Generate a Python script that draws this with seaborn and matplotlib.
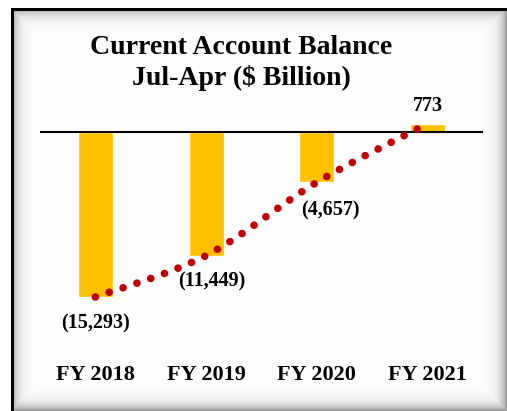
import matplotlib.pyplot as plt
import numpy as np
import seaborn as sns
from matplotlib.patches import PathPatch
from matplotlib.path import Path

years = ["FY 2018", "FY 2019", "FY 2020", "FY 2021"]
balance = [-15293, -11449, -4657, 773]
labels = ["(15,293)", "(11,449)", "(4,657)", "773"]
# label offsets in points (dx, dy) relative to the bar end
label_offsets = [(0, -19), (4, -19), (10, -20), (0, 13)]

BAR_COLOR = "#FFC000"
DOT_COLOR = "#C00000"
FONT = "Liberation Serif"

sns.set_style("white")
plt.rcParams["font.family"] = [FONT, "DejaVu Serif"]

W, H = 507, 411
fig = plt.figure(figsize=(W / 100, H / 100), dpi=100)

# background frame with an inset shadow
bg = fig.add_axes([0, 0, 1, 1])
bg.set_axis_off()
img = np.ones((H, W, 3))
xs = np.arange(W)[None, :] - 13.0
ys = np.arange(H)[:, None] - 11.0
shade = np.zeros((H, W))
shade = np.maximum(shade, 0.30 * np.exp(-np.clip(xs, 0, None) / 6))
shade = np.maximum(shade, 0.30 * np.exp(-np.clip(ys, 0, None) / 6))
shade = np.maximum(shade, 0.40 * np.exp(-np.clip(W - 1 - np.arange(W)[None, :], 0, None) / 6))
shade = np.maximum(shade, 0.40 * np.exp(-np.clip(H - 1 - np.arange(H)[:, None], 0, None) / 6))
img = img * (1 - shade[:, :, None])
img[:, :11] = 1.0
img[:9, :] = 1.0
img[9:, 11:14] = 0.0
img[9:12, 11:] = 0.0
bg.imshow(img, extent=(0, W, H, 0), aspect="auto", interpolation="nearest")

# main axes: zero line at y=132px, 0.01079 px per unit
top_px, bot_px = 100, 340
scale = 0.01079
ymax = (132 - top_px) / scale
ymin = ymax - (bot_px - top_px) / scale
ax = fig.add_axes([40 / W, (H - bot_px) / H, 443 / W, (bot_px - top_px) / H])
ax.patch.set_alpha(0)

sns.barplot(x=years, y=balance, color=BAR_COLOR, saturation=1, width=0.317, ax=ax)
ax.axhline(0, color="black", lw=1.5, zorder=1)

# smoothed dotted trend line through the bar ends (Catmull-Rom as Bezier)
pts = np.column_stack([np.arange(len(balance)), balance]).astype(float)
ext = np.vstack([pts[0], pts, pts[-1]])
verts = [tuple(pts[0])]
codes = [Path.MOVETO]
for i in range(len(pts) - 1):
    p0, p1, p2, p3 = ext[i], ext[i + 1], ext[i + 2], ext[i + 3]
    verts += [tuple(p1 + (p2 - p0) / 6), tuple(p2 - (p3 - p1) / 6), tuple(p2)]
    codes += [Path.CURVE4] * 3
trend = PathPatch(Path(verts, codes), fill=False, edgecolor=DOT_COLOR, lw=5.5,
                  linestyle=(0, (0.01, 1.9)), capstyle="round", zorder=3)
ax.add_patch(trend)

for i, (v, lab, off) in enumerate(zip(balance, labels, label_offsets)):
    ax.annotate(lab, (i, v), xytext=off, textcoords="offset points",
                ha="center", va="center", fontsize=14.5, fontweight="bold",
                color="black")

ax.set_xlim(-0.5, 3.5)
ax.set_ylim(ymin, ymax)
ax.set_yticks([])
ax.set_xlabel("")
ax.tick_params(axis="x", length=0, pad=18, labelsize=16, labelcolor="black")
for t in ax.get_xticklabels():
    t.set_fontweight("bold")
sns.despine(ax=ax, left=True, bottom=True)

fig.text(241 / W, 1 - 47 / H, "Current Account Balance", ha="center", va="center",
         fontsize=20, fontweight="bold", color="black")
fig.text(241 / W, 1 - 78 / H, "Jul-Apr ($ Billion)", ha="center", va="center",
         fontsize=20, fontweight="bold", color="black")

fig.savefig("out.png", dpi=100)
